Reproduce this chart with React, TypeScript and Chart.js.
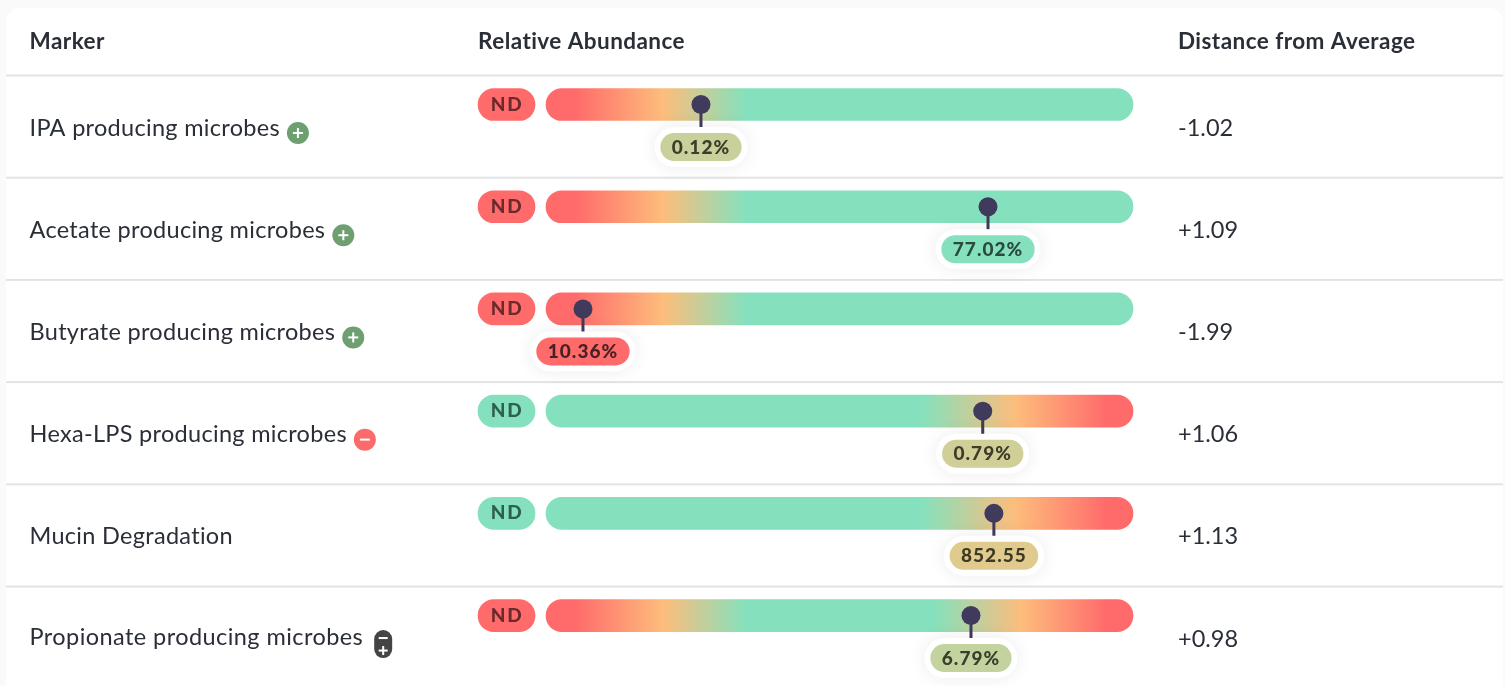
import React, { useEffect, useRef } from "react";
import { Chart, registerables } from "chart.js";

Chart.register(...registerables);

const markers = ["IPA producing microbes", "Acetate producing microbes", "Butyrate producing microbes", "Hexa-LPS producing microbes", "Mucin Degradation", "Propionate producing microbes"];
const abundanceLabels = ["0.12%", "77.02%", "10.36%", "0.79%", "852.55", "6.79%"];
const distances = ["-1.02", "+1.09", "-1.99", "+1.06", "+1.13", "+0.98"];
const pinPositions = [26.4, 75.3, 6.3, 74.4, 76.3, 72.4];
const directions = ["+", "+", "+", "-", "", "+-"];
const headers = ["Marker", "Relative Abundance", "Distance from Average"];
const ndStates = ["low", "low", "low", "ok", "ok", "low"];
const rowCenters = [0.284, 1.284, 2.284, 3.284, 4.284, 5.284];
const barRange: [number, number] = [0, 100];
const ndRange: [number, number] = [-11.58, -1.87];

const RED = "#ff6b6b";
const ORANGE = "#fdbd7c";
const GREEN = "#85e1bd";
const gradients: [number, string][][] = [
  [[0.05, RED], [0.2, ORANGE], [0.34, GREEN]],
  [[0.05, RED], [0.2, ORANGE], [0.34, GREEN]],
  [[0.05, RED], [0.2, ORANGE], [0.34, GREEN]],
  [[0.64, GREEN], [0.8, ORANGE], [0.955, RED]],
  [[0.64, GREEN], [0.8, ORANGE], [0.955, RED]],
  [[0.05, RED], [0.2, ORANGE], [0.34, GREEN], [0.66, GREEN], [0.81, ORANGE], [0.955, RED]],
];
const labelColors = ["#c9d09b", "#85e0bd", "#ff6b6b", "#d0cf97", "#e0ca8e", "#c3d3a0"];
const labelInk = ["#3a3d2a", "#2a4a3e", "#4a2024", "#3d3c28", "#3f3a24", "#373f2a"];
const PIN = "#403a5c";
const INK = "#2a2e37";
const FONT = "Lato, sans-serif";

function pill(c: CanvasRenderingContext2D, x0: number, y0: number, x1: number, y1: number) {
  c.beginPath();
  c.roundRect(x0, y0, x1 - x0, y1 - y0, (y1 - y0) / 2);
}

const backdrop = {
  id: "backdrop",
  beforeDraw(chart: any) {
    const c: CanvasRenderingContext2D = chart.ctx;
    const yS = chart.scales.y;
    c.save();
    c.fillStyle = "#fafafa";
    c.fillRect(0, 0, chart.width, chart.height);
    c.fillStyle = "#ffffff";
    c.beginPath();
    c.roundRect(6, 8, 1497, 700, 14);
    c.fill();
    c.fillStyle = "#e3e3e3";
    for (let i = 0; i < 6; i++) {
      c.fillRect(6, yS.getPixelForValue(i) - 1, 1497, 2);
    }
    c.restore();
  },
};

const overlay = {
  id: "overlay",
  beforeDatasetsDraw(chart: any) {
    const c: CanvasRenderingContext2D = chart.ctx;
    c.save();
    c.textBaseline = "middle";
    c.fillStyle = INK;
    (c as any).letterSpacing = "0.45px";
    c.font = `700 22.5px ${FONT}`;
    c.fillText(headers[0], 29.5, 42);
    c.fillText(headers[1], 478, 42);
    c.fillText(headers[2], 1178, 42);
    const yS = chart.scales.y;
    markers.forEach((m, i) => {
      const rowTop = yS.getPixelForValue(i);
      const ty = rowTop + 52.5;
      c.font = `400 23.5px ${FONT}`;
      c.fillStyle = INK;
      c.textAlign = "left";
      (c as any).letterSpacing = "0px";
      c.fillText(distances[i], 1178, ty);
      const dir = directions[i];
      const wide = dir === "+-";
      (c as any).letterSpacing = wide ? "0.43px" : "0.3px";
      c.fillText(m, 29.5, wide ? ty - 2 : ty);
      const w = c.measureText(m).width;
      const ix = 29.5 + w + 18;
      const iy = ty + 5;
      if (dir === "+" || dir === "-") {
        c.fillStyle = dir === "+" ? "#6d9f71" : "#fb6b6b";
        c.beginPath();
        c.arc(ix, iy, 11, 0, Math.PI * 2);
        c.fill();
        c.fillStyle = "#fff";
        c.fillRect(ix - 5, iy - 1, 10, 2);
        if (dir === "+") c.fillRect(ix - 1, iy - 5, 2, 10);
      } else if (wide) {
        const px = ix + 2;
        c.fillStyle = "#444444";
        c.beginPath();
        c.roundRect(px - 9, iy - 14, 18, 28, 9);
        c.fill();
        c.fillStyle = "#fff";
        c.fillRect(px - 4.5, iy - 7, 9, 2);
        c.fillRect(px - 4.5, iy + 5.5, 9, 2);
        c.fillRect(px - 1, iy + 2, 2, 9);
      }
    });
    c.restore();
  },
  afterDatasetsDraw(chart: any) {
    const c: CanvasRenderingContext2D = chart.ctx;
    const xS = chart.scales.x;
    const yS = chart.scales.y;
    c.save();
    c.textBaseline = "middle";
    c.textAlign = "center";
    rowCenters.forEach((rc, i) => {
      const cy = yS.getPixelForValue(rc);
      const ndx = (xS.getPixelForValue(ndRange[0]) + xS.getPixelForValue(ndRange[1])) / 2;
      c.font = `900 19px ${FONT}`;
      (c as any).letterSpacing = "1.6px";
      c.fillStyle = ndStates[i] === "low" ? "#6b2a2e" : "#2f5f50";
      c.fillText("ND", ndx + 0.5, cy);

      const px = xS.getPixelForValue(pinPositions[i]);
      const text = abundanceLabels[i];
      (c as any).letterSpacing = "1px";
      c.font = `900 19px ${FONT}`;
      const tw = c.measureText(text).width;
      const half = tw / 2 + 11.5;
      const ly = cy + 42.5;
      c.fillStyle = PIN;
      c.fillRect(px - 1.5, cy, 3, 23);
      c.save();
      c.shadowColor = "rgba(0,0,0,0.08)";
      c.shadowBlur = 18;
      c.fillStyle = "#fff";
      pill(c, px - half - 6, ly - 20, px + half + 6, ly + 20);
      c.fill();
      c.restore();
      c.fillStyle = labelColors[i];
      pill(c, px - half, ly - 14, px + half, ly + 14);
      c.fill();
      c.fillStyle = labelInk[i];
      c.fillText(text, px, ly + 0.5);
    });
    c.restore();
  },
};

export default function App() {
  const ref = useRef<HTMLCanvasElement>(null);
  useEffect(() => {
    document.body.style.margin = "0";
    const chart = new Chart(ref.current!, {
      type: "bar",
      data: {
        datasets: [
          {
            type: "scatter",
            data: rowCenters.map((y, i) => ({ x: pinPositions[i], y })),
            pointRadius: 9.5,
            pointHoverRadius: 9.5,
            pointBackgroundColor: PIN,
            pointBorderWidth: 0,
            showLine: false,
            clip: false,
            order: 0,
          } as any,
          {
            type: "bar",
            data: rowCenters.map((y) => ({ x: barRange, y })),
            barThickness: 32,
            borderRadius: 16,
            borderSkipped: false,
            grouped: false,
            clip: false,
            order: 1,
            backgroundColor: (ctx: any) => {
              const area = ctx.chart.chartArea;
              if (!area) return GREEN;
              const g = ctx.chart.ctx.createLinearGradient(area.left, 0, area.right, 0);
              (gradients[ctx.dataIndex] || gradients[0]).forEach(([s, col]) => g.addColorStop(s, col));
              return g;
            },
          } as any,
          {
            type: "bar",
            data: rowCenters.map((y) => ({ x: ndRange, y })),
            barThickness: 32,
            borderRadius: 16,
            borderSkipped: false,
            grouped: false,
            clip: false,
            order: 1,
            backgroundColor: ndStates.map((s) => (s === "low" ? RED : GREEN)),
          } as any,
        ],
      },
      options: {
        indexAxis: "y",
        animation: false,
        responsive: false,
        layout: { padding: { left: 546, right: 372, top: 75.5, bottom: 0 }, autoPadding: false },
        scales: {
          x: { type: "linear", min: 0, max: 100, display: false, offset: false },
          y: { type: "linear", min: 0, max: 5.973, reverse: true, display: false, offset: false },
        },
        plugins: { legend: { display: false }, tooltip: { enabled: false } },
      },
      plugins: [backdrop, overlay],
    } as any);
    return () => chart.destroy();
  }, []);
  return <canvas ref={ref} width={1505} height={686} style={{ display: "block", width: 1505, height: 686 }} />;
}
